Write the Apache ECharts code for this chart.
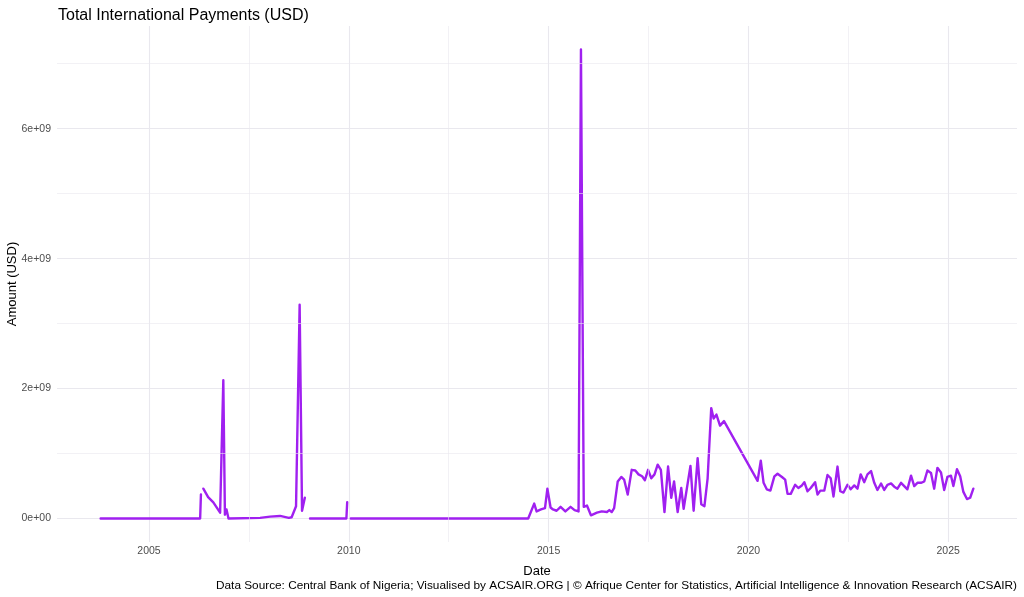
<!DOCTYPE html>
<html>
<head>
<meta charset="utf-8">
<script src="https://cdn.jsdelivr.net/npm/echarts@6/dist/echarts.min.js"></script>
<style>
html,body{margin:0;padding:0;background:#fff;}
#chart{width:1024px;height:597px;}
</style>
</head>
<body>
<div id="chart"></div>
<script>
// Decimal-year dates (null amount = gap in the series)
const dates = [
  2003.79, 2006.28, 2006.30, 2006.33, 2006.36, 2006.48, 2006.61, 2006.78, 2006.82, 2006.86,
  2006.90, 2006.94, 2006.99, 2007.78, 2008.03, 2008.28, 2008.50, 2008.57, 2008.68, 2008.73,
  2008.77, 2008.83, 2008.90, 2008.96, 2009.03, 2009.94, 2009.96, 2010.00, 2010.05, 2014.49,
  2014.64, 2014.70, 2014.81, 2014.91, 2014.97, 2015.05, 2015.11, 2015.20, 2015.30, 2015.42,
  2015.55, 2015.65, 2015.75, 2015.81, 2015.88, 2015.96, 2016.06, 2016.21, 2016.33, 2016.46,
  2016.52, 2016.58, 2016.64, 2016.73, 2016.82, 2016.89, 2016.98, 2017.08, 2017.17, 2017.25,
  2017.34, 2017.41, 2017.49, 2017.57, 2017.65, 2017.73, 2017.81, 2017.90, 2017.99, 2018.07,
  2018.14, 2018.23, 2018.32, 2018.38, 2018.55, 2018.63, 2018.73, 2018.82, 2018.90, 2018.98,
  2019.07, 2019.13, 2019.20, 2019.29, 2019.39, 2020.23, 2020.31, 2020.38, 2020.46, 2020.55,
  2020.65, 2020.73, 2020.84, 2020.92, 2020.98, 2021.06, 2021.17, 2021.25, 2021.34, 2021.40,
  2021.48, 2021.56, 2021.67, 2021.73, 2021.80, 2021.90, 2021.98, 2022.06, 2022.13, 2022.23,
  2022.30, 2022.38, 2022.48, 2022.56, 2022.65, 2022.73, 2022.81, 2022.90, 2022.98, 2023.07,
  2023.15, 2023.23, 2023.32, 2023.40, 2023.48, 2023.57, 2023.65, 2023.73, 2023.82, 2023.90,
  2023.98, 2024.07, 2024.15, 2024.23, 2024.32, 2024.40, 2024.48, 2024.57, 2024.65, 2024.73,
  2024.82, 2024.90, 2024.98, 2025.07, 2025.13, 2025.22, 2025.30, 2025.38, 2025.47, 2025.55,
  2025.63
];
// Amounts in billions of USD
const amountsBn = [
  0, 0, 0.37, null, 0.46, 0.33, 0.25, 0.09, 0.06, 2.13,
  0.06, 0.14, 0, 0.01, 0.03, 0.04, 0.01, 0.02, 0.19, 0.22,
  3.29, 0.12, 0.32, null, 0, 0, 0.25, null, 0, 0,
  0.23, 0.11, 0.14, 0.16, 0.46, 0.17, 0.14, 0.12, 0.18, 0.11,
  0.18, 0.13, 0.11, 7.22, 0.18, 0.20, 0.05, 0.09, 0.11, 0.10,
  0.13, 0.10, 0.16, 0.57, 0.64, 0.60, 0.37, 0.75, 0.74, 0.68,
  0.65, 0.59, 0.75, 0.62, 0.68, 0.83, 0.75, 0.10, 0.80, 0.32,
  0.57, 0.10, 0.47, 0.15, 0.81, 0.12, 0.93, 0.22, 0.19, 0.62,
  1.70, 1.54, 1.60, 1.43, 1.50, 0.58, 0.89, 0.55, 0.45, 0.43,
  0.65, 0.69, 0.64, 0.60, 0.38, 0.38, 0.52, 0.47, 0.51, 0.56,
  0.42, 0.47, 0.56, 0.37, 0.43, 0.43, 0.67, 0.62, 0.34, 0.80,
  0.42, 0.40, 0.52, 0.45, 0.51, 0.46, 0.68, 0.56, 0.68, 0.73,
  0.55, 0.44, 0.54, 0.44, 0.52, 0.54, 0.49, 0.46, 0.55, 0.50,
  0.45, 0.66, 0.50, 0.55, 0.55, 0.57, 0.74, 0.70, 0.46, 0.78,
  0.71, 0.44, 0.64, 0.66, 0.50, 0.76, 0.65, 0.41, 0.30, 0.32,
  0.46
];
const xMinorYears = [2007.5, 2012.5, 2017.5, 2022.5];
const yMinorValues = [1e9, 3e9, 5e9, 7e9];

const titleText = 'Total International Payments (USD)';
const captionText = 'Data Source: Central Bank of Nigeria; Visualised by ACSAIR.ORG | \u00A9 Afrique Center for Statistics, Artificial Intelligence & Innovation Research (ACSAIR)';

const seriesData = dates.map((d, i) => [d, amountsBn[i] == null ? null : amountsBn[i] * 1e9]);
const validX = dates.filter((d, i) => amountsBn[i] != null);
const validY = amountsBn.filter(v => v != null).map(v => v * 1e9);
const xMinD = Math.min(...validX), xMaxD = Math.max(...validX);
const yMinD = Math.min(...validY), yMaxD = Math.max(...validY);
const xPad = (xMaxD - xMinD) * 0.05, yPad = (yMaxD - yMinD) * 0.05;

const FONT = '"Liberation Sans", Arial, sans-serif';
const GRID_COLOR = '#e9e8ee';

function sci(v) {
  if (v === 0) return '0e+00';
  const e = Math.floor(Math.log10(Math.abs(v)));
  const m = Math.round(v / Math.pow(10, e) * 100) / 100;
  return m + 'e+' + String(e).padStart(2, '0');
}

const chart = echarts.init(document.getElementById('chart'), null, {renderer: 'canvas'});
chart.setOption({
  animation: false,
  backgroundColor: '#fff',
  textStyle: {fontFamily: FONT},
  title: [
    {text: titleText, left: 53, top: 3, textStyle: {fontFamily: FONT, fontSize: 16, fontWeight: 'normal', color: '#000'}},
    {text: captionText, right: 2, bottom: 0, textStyle: {fontFamily: FONT, fontSize: 11.8, fontWeight: 'normal', color: '#000'}}
  ],
  grid: {left: 57, right: 7, top: 26, bottom: 55, containLabel: false, outerBoundsMode: 'none'},
  xAxis: {
    type: 'value',
    min: xMinD - xPad,
    max: xMaxD + xPad,
    name: 'Date',
    nameLocation: 'middle',
    nameGap: 23,
    nameMoveOverlap: false,
    nameTextStyle: {fontFamily: FONT, fontSize: 13, color: '#000'},
    axisLine: {show: false},
    axisTick: {show: false},
    axisLabel: {
      color: '#4d4d4d', fontSize: 10.5, margin: 4,
      showMinLabel: false, showMaxLabel: false,
      formatter: v => (Math.abs(v - Math.round(v)) < 1e-6 && Math.round(v) % 5 === 0) ? String(Math.round(v)) : ''
    },
    splitLine: {show: true, showMinLine: false, showMaxLine: false, lineStyle: {color: GRID_COLOR, width: 1.1}}
  },
  yAxis: {
    type: 'value',
    min: yMinD - yPad,
    max: yMaxD + yPad,
    splitNumber: 4,
    name: 'Amount (USD)',
    nameLocation: 'middle',
    nameGap: 38,
    nameRotate: 90,
    nameMoveOverlap: false,
    nameTextStyle: {fontFamily: FONT, fontSize: 13, color: '#000'},
    axisLine: {show: false},
    axisTick: {show: false},
    axisLabel: {
      color: '#4d4d4d', fontSize: 10.5, margin: 6,
      showMinLabel: false, showMaxLabel: false,
      formatter: v => (Math.abs(v / 1e9 - Math.round(v / 1e9)) < 1e-6) ? sci(v) : ''
    },
    splitLine: {show: true, showMinLine: false, showMaxLine: false, lineStyle: {color: GRID_COLOR, width: 1.1}}
  },
  series: [
    {
      type: 'line',
      data: [],
      silent: true,
      z: 1,
      markLine: {
        silent: true,
        symbol: ['none', 'none'],
        label: {show: false},
        animation: false,
        lineStyle: {color: GRID_COLOR, width: 0.6, type: 'solid'},
        data: xMinorYears.map(x => ({xAxis: x})).concat(yMinorValues.map(y => ({yAxis: y})))
      }
    },
    {
      type: 'line',
      data: seriesData,
      showSymbol: false,
      symbol: 'none',
      connectNulls: false,
      z: 3,
      lineStyle: {color: '#A020F0', width: 2.4, join: 'round', cap: 'round'},
      itemStyle: {color: '#A020F0'}
    }
  ]
});
</script>
</body>
</html>
